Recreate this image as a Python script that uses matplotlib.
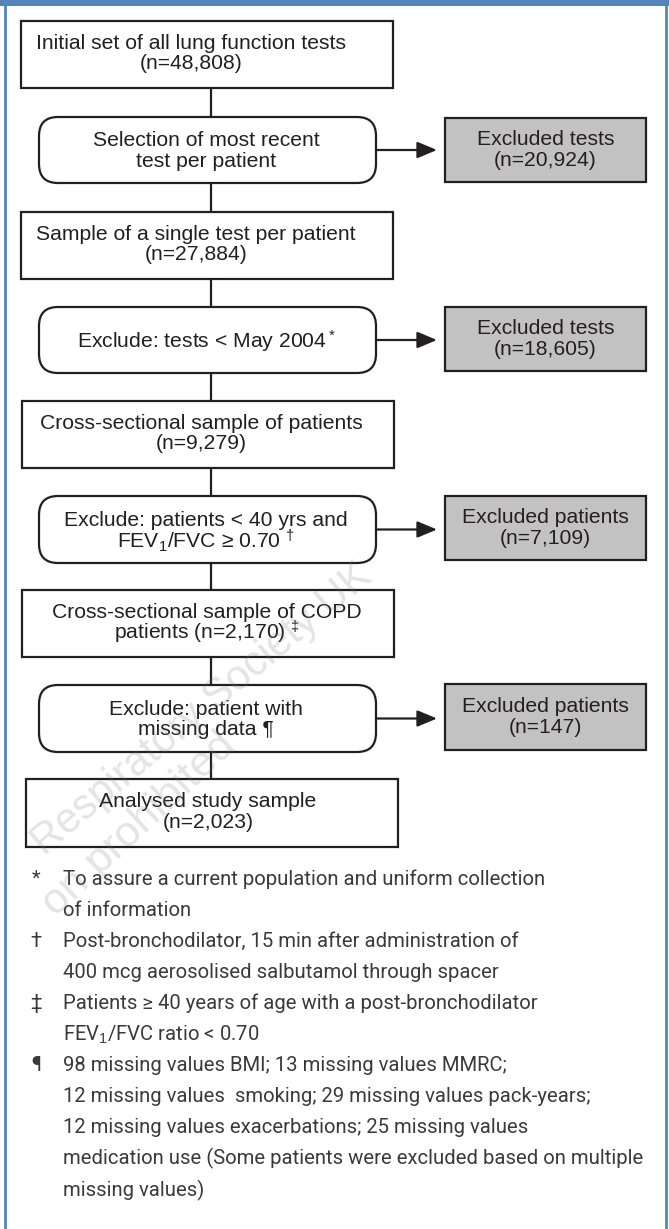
import matplotlib.pyplot as plt
from matplotlib.patches import Rectangle, FancyBboxPatch

plt.rcParams['mathtext.fontset'] = 'custom'
plt.rcParams['mathtext.rm'] = 'Liberation Sans'
plt.rcParams['mathtext.it'] = 'Liberation Sans'

# flow chart content
main_text = ["Initial set of all lung function tests\n(n={:,})",
             "Sample of a single test per patient\n(n={:,})",
             "Cross-sectional sample of patients\n(n={:,})",
             "Cross-sectional sample of COPD\npatients (n={:,}) $^‡$",
             "Analysed study sample\n(n={:,})"]
main_n = [48808, 27884, 9279, 2170, 2023]

step_text = ["Selection of most recent\ntest per patient",
             "Exclude: tests < May 2004$^*$",
             "Exclude: patients < 40 yrs and\nFEV$_1$/FVC ≥ 0.70 $^†$",
             "Exclude: patient with\nmissing data ¶"]

excl_label = ["Excluded tests", "Excluded tests", "Excluded patients", "Excluded patients"]
excl_n = [20924, 18605, 7109, 147]

note_marks = ["*", "", "†", "", "‡", "", "¶", "", "", "", ""]
note_lines = ["To assure a current population and uniform collection",
              "of information",
              "Post-bronchodilator, 15 min after administration of",
              "400 mcg aerosolised salbutamol through spacer",
              "Patients ≥ 40 years of age with a post-bronchodilator",
              "FEV$_1$/FVC ratio < 0.70",
              "98 missing values BMI; 13 missing values MMRC;",
              "12 missing values  smoking; 29 missing values pack-years;",
              "12 missing values exacerbations; 25 missing values",
              "medication use (Some patients were excluded based on multiple",
              "missing values)"]

# layout in pixels (figure is 669 x 1229)
W, H = 669, 1229
main_x = [(21, 393), (21, 393), (22, 394), (22, 394), (26, 398)]
main_y = [(21, 88), (212, 279), (401, 468), (590, 657), (779, 847)]
main_tx = [191, 196, 201, 207, 208]
step_x = (39, 376)
step_y = [(117, 183), (307, 373), (496, 563), (685, 752)]
step_tx = 206
excl_x = (445, 646)
excl_y = [(118, 182), (307, 371), (496, 560), (684, 750)]
conn_x = 211
ink = '#231f20'
blue = '#5484b8'

fig = plt.figure(figsize=(W / 100, H / 100), dpi=100)
ax = fig.add_axes([0, 0, 1, 1])
ax.set_xlim(0, W)
ax.set_ylim(H, 0)
ax.axis('off')

# frame
ax.add_patch(Rectangle((0, 0), W, 6, color=blue, lw=0))
ax.plot([5, 5], [0, H], color=blue, lw=2)
ax.plot([665.5, 665.5], [0, H], color=blue, lw=2)


def draw_lines(x, yc, text, size=15.2, gap=20.5):
    lines = text.split("\n")
    y0 = yc - gap * (len(lines) - 1) / 2
    for i, ln in enumerate(lines):
        ax.text(x, y0 + i * gap, ln, ha='center', va='center', fontsize=size,
                family='Liberation Sans', color=ink, zorder=5)


# vertical connectors
ax.plot([conn_x, conn_x], [main_y[0][1], main_y[-1][0]], color=ink, lw=1.6, zorder=1)

for (x0, x1), (y0, y1), tx, t, n in zip(main_x, main_y, main_tx, main_text, main_n):
    ax.add_patch(Rectangle((x0, y0), x1 - x0, y1 - y0, fc='white', ec=ink, lw=1.6, zorder=3))
    draw_lines(tx, (y0 + y1) / 2 - 1, t.format(n))

for (y0, y1), t in zip(step_y, step_text):
    ax.add_patch(FancyBboxPatch((step_x[0], y0), step_x[1] - step_x[0], y1 - y0,
                                boxstyle="round,pad=0,rounding_size=19",
                                fc='white', ec=ink, lw=1.6, zorder=3))
    draw_lines(step_tx, (y0 + y1) / 2 + 1, t)
    yc = (y0 + y1) / 2
    ax.annotate('', xy=(437, yc), xytext=(step_x[1], yc),
                arrowprops=dict(arrowstyle='-|>,head_length=0.6,head_width=0.25',
                                mutation_scale=20, lw=1.6, color=ink,
                                shrinkA=0, shrinkB=0), zorder=4)

for (y0, y1), lab, n in zip(excl_y, excl_label, excl_n):
    ax.add_patch(Rectangle((excl_x[0], y0), excl_x[1] - excl_x[0], y1 - y0,
                           fc='#c2c2c2', ec=ink, lw=1.6, zorder=3))
    draw_lines((excl_x[0] + excl_x[1]) / 2, (y0 + y1) / 2, f"{lab}\n(n={n:,})")

# footnotes
for i, (m, ln) in enumerate(zip(note_marks, note_lines)):
    y = 879 + i * 31.1
    ax.text(36, y, m, ha='center', va='center', fontsize=14.6, family='Roboto',
            color='#3a3a3a')
    ax.text(63, y, ln, ha='left', va='center', fontsize=14.6, family='Roboto',
            color='#3a3a3a')

# watermark (only the part visible in the figure)
ax.text(374, 580, "Respiratory Society UK", rotation=40, rotation_mode='anchor',
        ha='right', va='baseline', fontsize=30, family='Liberation Sans',
        color='#777777', alpha=0.2, zorder=6)
ax.text(238, 748, "on prohibited", rotation=43, rotation_mode='anchor',
        ha='right', va='baseline', fontsize=31, family='Liberation Sans',
        color='#777777', alpha=0.2, zorder=6)

fig.savefig("out.png", dpi=100)
